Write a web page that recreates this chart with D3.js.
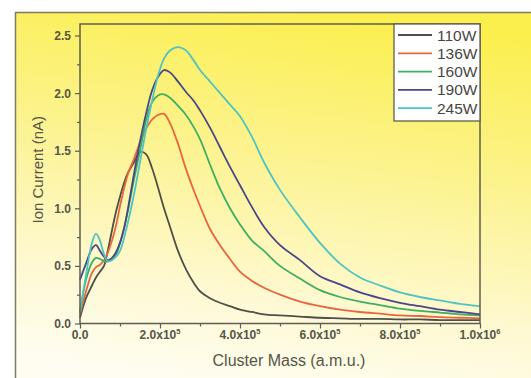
<!DOCTYPE html>
<html>
<head>
<meta charset="utf-8">
<script src="https://cdn.jsdelivr.net/npm/d3@7"></script>
<style>
body{margin:0;background:#fff;}
svg text{font-family:"Liberation Sans",Arial,sans-serif;}
</style>
</head>
<body>
<div class="canvas"></div>
<script>

// data (cluster mass in units of 1e5 a.m.u., ion current in nA)
var mass = [0,0.15,0.3,0.4,0.5,0.6,0.7,0.8,0.9,1.0,1.1,1.2,1.35,1.5,1.65,1.8,1.95,2.1,2.25,2.45,
            2.65,2.85,3.0,3.25,3.5,3.75,4.0,4.3,4.6,5.0,5.5,6.0,6.5,7.0,7.5,8.0,8.5,9.0,9.5,10.0];

var w110 = [0.05,0.22,0.33,0.40,0.45,0.50,0.64,0.81,0.97,1.10,1.22,1.31,1.40,1.49,1.47,1.35,1.18,1.00,0.84,0.63,
            0.47,0.35,0.28,0.22,0.18,0.15,0.12,0.10,0.08,0.07,0.06,0.05,0.045,0.04,0.04,0.035,0.035,0.03,0.03,0.03];
var w136 = [0.08,0.28,0.44,0.49,0.51,0.55,0.62,0.72,0.85,1.02,1.17,1.30,1.43,1.57,1.69,1.77,1.81,1.82,1.74,1.56,
            1.34,1.15,1.02,0.82,0.68,0.56,0.45,0.37,0.31,0.25,0.19,0.15,0.12,0.10,0.085,0.07,0.065,0.055,0.05,0.045];
var w160 = [0.10,0.38,0.53,0.57,0.56,0.54,0.54,0.56,0.60,0.70,0.83,0.98,1.25,1.50,1.76,1.92,1.98,1.99,1.96,1.89,
            1.81,1.70,1.60,1.38,1.17,1.00,0.86,0.72,0.63,0.50,0.39,0.29,0.23,0.19,0.16,0.13,0.11,0.095,0.08,0.07];
var w190 = [0.38,0.52,0.65,0.68,0.63,0.58,0.55,0.57,0.62,0.70,0.82,1.00,1.30,1.58,1.82,2.02,2.14,2.20,2.18,2.10,
            2.01,1.93,1.85,1.70,1.53,1.36,1.20,1.01,0.84,0.68,0.55,0.41,0.34,0.27,0.22,0.18,0.15,0.12,0.10,0.08];
var w245 = [0.10,0.42,0.70,0.78,0.72,0.60,0.54,0.55,0.58,0.63,0.74,0.88,1.12,1.40,1.68,1.93,2.15,2.30,2.37,2.40,
            2.37,2.28,2.20,2.10,2.00,1.90,1.80,1.62,1.40,1.16,0.92,0.70,0.52,0.40,0.33,0.27,0.23,0.20,0.17,0.15];

var seriesNames = ['110W','136W','160W','190W','245W'];
var seriesValues = [w110,w136,w160,w190,w245];
var seriesColors = ['#4f4f4a','#e8663e','#3fae62','#4a4688','#4fc4c2'];

var xTicks = [0,2,4,6,8,10];
var xMinor = [1,3,5,7,9];
var yTicks = [0,0.5,1.0,1.5,2.0,2.5];
var yMinor = [0.25,0.75,1.25,1.75,2.25];

var W = 531, H = 378;
var margin = {t:24,l:80,b:54.5,r:51},
    width = W-margin.l-margin.r,
    height = H-margin.t-margin.b;

var svg = d3.select('.canvas')
    .append('svg')
    .attr('width',W)
    .attr('height',H);

var defs = svg.append('defs');
var grad = defs.append('linearGradient')
    .attr('id','bg')
    .attr('x1','0.6').attr('y1','0')
    .attr('x2','0.4').attr('y2','1');
grad.append('stop').attr('offset','0').attr('stop-color','#fbef4e');
grad.append('stop').attr('offset','0.4').attr('stop-color','#fcf392');
grad.append('stop').attr('offset','0.75').attr('stop-color','#fef9d2');
grad.append('stop').attr('offset','1').attr('stop-color','#fffdf2');

// outer panel
svg.append('rect')
    .attr('x',15.5).attr('y',12.5)
    .attr('width',W).attr('height',H)
    .attr('fill','url(#bg)')
    .attr('stroke','#7f7b5c')
    .attr('stroke-width',1.5);

var x = d3.scaleLinear().domain([0,10]).range([0,width]);
var y = d3.scaleLinear().domain([0,2.6]).range([height,0]);

var g = svg.append('g')
    .attr('transform','translate('+margin.l+','+margin.t+')');

// axes
var axisColor = '#5e5e52';
function styleAxis(sel){
    sel.select('.domain').remove();
    sel.selectAll('line').attr('stroke',axisColor).attr('stroke-width',1.2);
}

g.append('g').attr('transform','translate(0,'+height+')')
    .call(d3.axisBottom(x).tickValues(xTicks).tickSize(5).tickFormat(''))
    .call(styleAxis);
g.append('g').attr('transform','translate(0,'+height+')')
    .call(d3.axisBottom(x).tickValues(xMinor).tickSize(3).tickFormat(''))
    .call(styleAxis);
g.append('g')
    .call(d3.axisLeft(y).tickValues(yTicks).tickSize(5).tickFormat(''))
    .call(styleAxis);
g.append('g')
    .call(d3.axisLeft(y).tickValues(yMinor).tickSize(3).tickFormat(''))
    .call(styleAxis);

// tick labels
g.selectAll('.ylab')
    .data(yTicks)
    .enter().append('text')
    .attr('class','ylab')
    .attr('x',-9)
    .attr('y',function(d){ return y(d)+4.5; })
    .attr('text-anchor','end')
    .attr('font-size','12px')
    .attr('font-weight','bold')
    .attr('fill','#555549')
    .text(function(d){ return d.toFixed(1); });

var xl = g.selectAll('.xlab')
    .data(xTicks)
    .enter().append('text')
    .attr('class','xlab')
    .attr('x',function(d){ return x(d); })
    .attr('y',height+15)
    .attr('text-anchor','middle')
    .attr('font-size','12px')
    .attr('font-weight','bold')
    .attr('fill','#555549');
xl.each(function(d){
    var t = d3.select(this);
    if(d===0){ t.text('0.0'); return; }
    var e = d>=10 ? 6 : 5;
    var m = d/Math.pow(10,e-5);
    t.append('tspan').text(m.toFixed(1)+'x10');
    t.append('tspan').attr('font-size','7.5px').attr('dy','-5').text(e);
});

// curves
var line = d3.line()
    .x(function(d){ return x(d[0]); })
    .y(function(d){ return y(d[1]); })
    .curve(d3.curveCatmullRom.alpha(0.5));

seriesValues.forEach(function(vals,i){
    g.append('path')
        .datum(mass.map(function(m,j){ return [m,vals[j]]; }))
        .attr('fill','none')
        .attr('stroke',seriesColors[i])
        .attr('stroke-width',1.8)
        .attr('stroke-linejoin','round')
        .attr('d',line);
});

// plot frame
g.append('rect')
    .attr('width',width).attr('height',height)
    .attr('fill','none')
    .attr('stroke',axisColor)
    .attr('stroke-width',1.5);

// legend
var lg = g.append('g').attr('transform','translate('+(width-86)+',0)');
lg.append('rect')
    .attr('width',86).attr('height',97)
    .attr('fill','#ffffff')
    .attr('stroke',axisColor)
    .attr('stroke-width',1.3);
seriesNames.forEach(function(n,i){
    var yy = 11+i*18.3;
    lg.append('line')
        .attr('x1',4).attr('x2',38)
        .attr('y1',yy).attr('y2',yy)
        .attr('stroke',seriesColors[i])
        .attr('stroke-width',1.8);
    lg.append('text')
        .attr('x',43).attr('y',yy+5.5)
        .attr('font-size','15.5px')
        .attr('fill','#47473f')
        .text(n);
});

// axis titles
g.append('text')
    .attr('x',209).attr('y',height+42.5)
    .attr('text-anchor','middle')
    .attr('font-size','16px')
    .attr('fill','#555549')
    .text('Cluster Mass (a.m.u.)');

g.append('text')
    .attr('transform','translate(-37,'+(height/2-4)+') rotate(-90)')
    .attr('text-anchor','middle')
    .attr('font-size','15px')
    .attr('fill','#555549')
    .text('Ion Current (nA)');

</script>
</body>
</html>
